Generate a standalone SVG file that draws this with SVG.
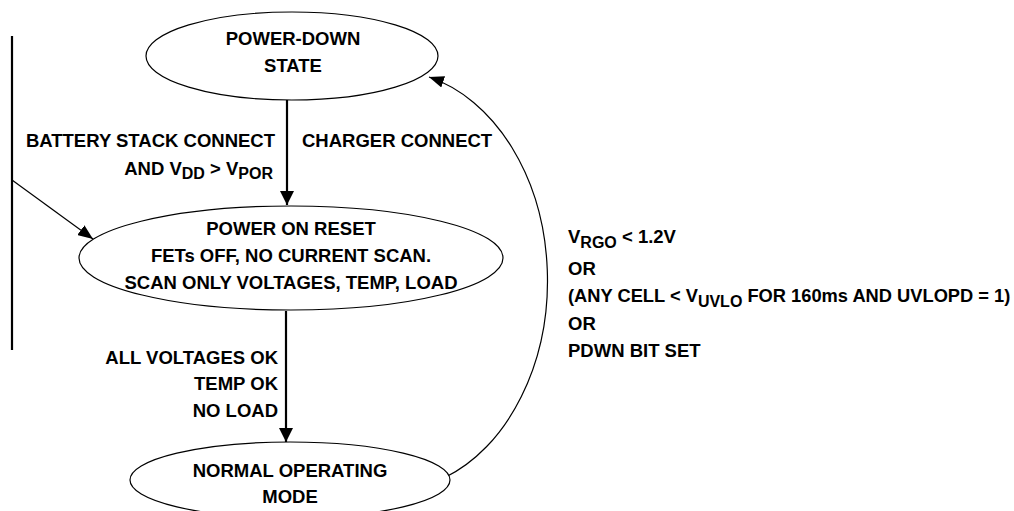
<svg xmlns="http://www.w3.org/2000/svg" width="1014" height="511" viewBox="0 0 1014 511">
<style>
.bg{fill:#fff}
.node{fill:#fff;stroke:#000;stroke-width:1.2}
text{font-family:"Liberation Sans",Arial,sans-serif;font-weight:bold;font-size:18.5px;fill:#000}
.c{text-anchor:middle}
.r{text-anchor:end}
.sub{font-size:16px}
.thick{stroke:#000;stroke-width:2.2;fill:none}
.thin{stroke:#000;stroke-width:1.2;fill:none}
</style>
<defs>
<marker id="ah" viewBox="0 0 14 14" refX="14" refY="7" markerWidth="14" markerHeight="14" markerUnits="userSpaceOnUse" orient="auto">
<path d="M0,0 L14,7 L0,14 z" fill="#000"/>
</marker>
<marker id="ahs" viewBox="0 0 15 12" refX="15" refY="6" markerWidth="15" markerHeight="12" markerUnits="userSpaceOnUse" orient="auto">
<path d="M0,0 L15,6 L0,12 z" fill="#000"/>
</marker>
</defs>
<rect class="bg" width="1014" height="511"/>
<g id="connectors">
<line class="thick" x1="12" y1="36" x2="12" y2="350"/>
<line class="thin" x1="12" y1="180" x2="93" y2="239" marker-end="url(#ahs)"/>
<line class="thick" x1="287" y1="100" x2="287" y2="205" marker-end="url(#ah)"/>
<line class="thick" x1="286" y1="311" x2="286" y2="442" marker-end="url(#ah)"/>
<path class="thin" d="M444,478 A157,210 0 0 0 429,77" marker-end="url(#ahs)"/>
</g>
<g id="labels">
<text class="r" x="275" y="147">BATTERY STACK CONNECT</text>
<text class="r" x="273" y="175">AND V<tspan class="sub" dy="4">DD</tspan><tspan dy="-4"> &gt; V</tspan><tspan class="sub" dy="4">POR</tspan></text>
<text x="302" y="147">CHARGER CONNECT</text>
<text class="r" x="278" y="364">ALL VOLTAGES OK</text>
<text class="r" x="278" y="390">TEMP OK</text>
<text class="r" x="278" y="417">NO LOAD</text>
<text x="568" y="243">V<tspan class="sub" dy="5">RGO</tspan><tspan dy="-5"> &lt; 1.2V</tspan></text>
<text x="568" y="275">OR</text>
<text x="568" y="302" style="font-size:18.3px">(ANY CELL &lt; V<tspan class="sub" dy="5">UVLO</tspan><tspan dy="-5"> FOR 160ms AND UVLOPD = 1)</tspan></text>
<text x="568" y="330">OR</text>
<text x="568" y="357">PDWN BIT SET</text>
</g>
<g id="power-down">
<ellipse class="node" cx="292" cy="56" rx="146" ry="44"/>
<text class="c" x="293" y="45">POWER-DOWN</text>
<text class="c" x="293" y="72">STATE</text>
</g>
<g id="power-on-reset">
<ellipse class="node" cx="291" cy="258" rx="212" ry="52"/>
<text class="c" x="291" y="235">POWER ON RESET</text>
<text class="c" x="291" y="262">FETs OFF, NO CURRENT SCAN.</text>
<text class="c" x="291" y="289">SCAN ONLY VOLTAGES, TEMP, LOAD</text>
</g>
<g id="normal-operating">
<ellipse class="node" cx="290" cy="480" rx="160" ry="38"/>
<text class="c" x="290" y="477">NORMAL OPERATING</text>
<text class="c" x="290" y="503">MODE</text>
</g>
</svg>
